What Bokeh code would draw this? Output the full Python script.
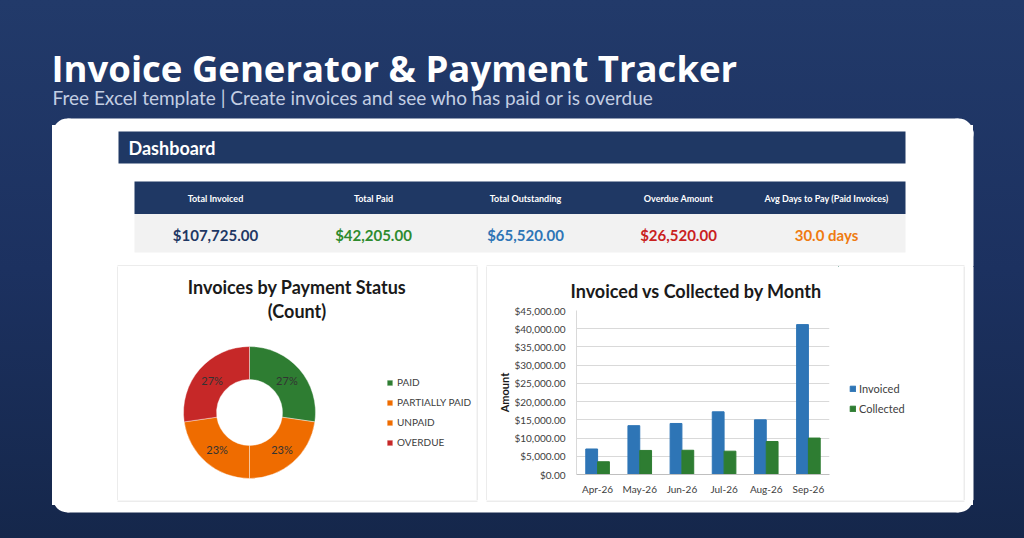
import math
from bokeh.plotting import figure
from bokeh.models import (Range1d, ColumnDataSource, Legend, LegendItem,
                          NumeralTickFormatter, FixedTicker, GlobalInlineStyleSheet)
from bokeh.layouts import column, row
from bokeh.transform import dodge
from bokeh.core.properties import value
from bokeh.embed import file_html
from bokeh.resources import INLINE

# ---------------- data ----------------
page_title = "Invoice Generator & Payment Tracker"
page_subtitle = "Free Excel template | Create invoices and see who has paid or is overdue"
section_title = "Dashboard"

kpi_labels = ["Total Invoiced", "Total Paid", "Total Outstanding", "Overdue Amount",
              "Avg Days to Pay (Paid Invoices)"]
kpi_values = ["$107,725.00", "$42,205.00", "$65,520.00", "$26,520.00", "30.0 days"]

status_labels = ["PAID", "PARTIALLY PAID", "UNPAID", "OVERDUE"]
status_counts = [6, 5, 5, 6]

months = ["Apr-26", "May-26", "Jun-26", "Jul-26", "Aug-26", "Sep-26"]
invoiced = [7000, 13400, 14000, 17200, 15000, 41125]
collected = [3500, 6600, 6650, 6400, 9055, 10000]
y_ticks = [0, 5000, 10000, 15000, 20000, 25000, 30000, 35000, 40000, 45000]
series_names = ["Invoiced", "Collected"]

# ---------------- styles ----------------
HEADER = "#1f3864"
FONT = "Lato"
BORDER = "#d9d9d9"
kpi_colors = ["#1f3864", "#2e8b2e", "#2e75b6", "#c9211e", "#ef7b10"]
status_colors = ["#2e7d32", "#ef6c00", "#ef6c00", "#c62828"]
BLUE = "#2e75b6"
GREEN = "#2e7d32"
PAGE_CSS = ("html, body { background-color: #1c3160; background: "
            "linear-gradient(#ffffff, #ffffff) no-repeat 52px 125px / 921px 380px, "
            "linear-gradient(to bottom, #223a6a, #1c3160 50%, #15274b) no-repeat 0 0 / 100% 100%; }")


def base_fig(w, h, xr, yr, bg=None):
    p = figure(width=w, height=h, x_range=xr, y_range=yr, output_backend="svg",
               toolbar_location=None, min_border=0, x_axis_location=None,
               y_axis_location=None, outline_line_color=None)
    if bg is None:
        p.background_fill_alpha = 0
        p.border_fill_alpha = 0
    else:
        p.background_fill_color = bg
        p.border_fill_color = bg
    p.frame_align = False
    p.xgrid.visible = False
    p.ygrid.visible = False
    return p


# ---------------- top band (page coords, transparent over the page gradient) ----------------
T = base_fig(1024, 266, Range1d(0, 1024), Range1d(266, 0))
T.quad(left=52, right=973, top=131, bottom=275, fill_color="white", line_color=None)
T.quad(left=67, right=958, top=118, bottom=136, fill_color="white", line_color=None)
T.circle(x=[67, 958], y=[133, 133], radius=15, radius_units="screen",
         fill_color="white", line_color=None)
T.text(x=[51], y=[67], text=[page_title], text_font=value("Open Sans"), text_font_size="36.5px",
       text_font_style="bold", text_color="white", text_baseline="alphabetic")
T.text(x=[52], y=[97], text=[page_subtitle], text_font=value(FONT), text_font_size="19px",
       text_color="#c3cee3", text_baseline="alphabetic")
T.quad(left=118, right=905, top=131, bottom=163, fill_color=HEADER, line_color=None)
T.text(x=[128], y=[147], text=[section_title], text_font=value(FONT), text_font_size="18px",
       text_font_style="bold", text_color="white", text_baseline="middle")
T.quad(left=134, right=905, top=181, bottom=213.5, fill_color=HEADER, line_color=None)
T.quad(left=134, right=905, top=213.5, bottom=252, fill_color="#f2f2f2", line_color=None)
kpi_x = [215, 373, 525, 678, 826]
T.text(x=kpi_x, y=[198] * 5, text=kpi_labels, text_font=value(FONT), text_font_size="9px",
       text_font_style="bold", text_color="white", text_align="center", text_baseline="middle")
T.text(x=kpi_x, y=[234] * 5, text=kpi_values, text_font=value(FONT), text_font_size="15px",
       text_font_style="bold", text_color=kpi_colors, text_align="center", text_baseline="middle")
T.segment(x0=[117, 486], y0=[265.5, 265.5], x1=[477, 964], y1=[265.5, 265.5],
          line_color=BORDER, line_width=1)

# ---------------- middle row ----------------
Lpad = base_fig(118, 234, Range1d(0, 118), Range1d(500, 266))
Lpad.quad(left=52, right=130, top=250, bottom=520, fill_color="white", line_color=None)
Lpad.segment(x0=[117.5], y0=[250], x1=[117.5], y1=[520], line_color=BORDER, line_width=1)

Gap = base_fig(11, 234, Range1d(476, 487), Range1d(500, 266), "white")
Gap.segment(x0=[476.5, 486.5], y0=[250, 250], x1=[476.5, 486.5], y1=[520, 520],
            line_color=BORDER, line_width=1)

Rpad = base_fig(61, 234, Range1d(963, 1024), Range1d(500, 266))
Rpad.quad(left=950, right=973, top=250, bottom=520, fill_color="white", line_color=None)
Rpad.segment(x0=[963.5], y0=[250], x1=[963.5], y1=[520], line_color=BORDER, line_width=1)

# pie (donut)
P = base_fig(358, 234, Range1d(0, 358), Range1d(0, 234), "white")
total = sum(status_counts)
starts, ends, lx, ly, pct = [], [], [], [], []
cum = 0.0
cx, cy, r_in, r_out = 131, 88, 33, 66
for c in status_counts:
    a0 = math.pi / 2 - 2 * math.pi * cum / total
    cum += c
    a1 = math.pi / 2 - 2 * math.pi * cum / total
    starts.append(a0)
    ends.append(a1)
    mid = (a0 + a1) / 2
    rm = (r_in + r_out) / 2
    lx.append(cx + rm * math.cos(mid))
    ly.append(cy + rm * math.sin(mid))
    pct.append(f"{round(c / total * 100)}%")
psrc = ColumnDataSource(dict(start=starts, end=ends, color=status_colors, label=status_labels))
wr = P.annular_wedge(x=cx, y=cy, inner_radius=r_in, outer_radius=r_out,
                     inner_radius_units="screen", outer_radius_units="screen",
                     start_angle="start", end_angle="end", direction="clock",
                     fill_color="color", line_color="white", line_width=0.4, source=psrc)
P.text(x=lx, y=ly, text=pct, text_font=value(FONT), text_font_size="11px",
       text_color="#333333", text_align="center", text_baseline="middle")
P.text(x=[178.5, 178.5], y=[214, 190], text=["Invoices by Payment Status", "(Count)"],
       text_font=value(FONT), text_font_size="18px", text_font_style="bold",
       text_color="#1a1a1a", text_align="center", text_baseline="middle")
pleg = Legend(items=[LegendItem(label=status_labels[i], renderers=[wr], index=i)
                     for i in range(len(status_labels))],
              location=(268, 52), glyph_width=7, glyph_height=7, label_height=12,
              spacing=8, padding=0, margin=0, label_standoff=4,
              label_text_font=FONT, label_text_font_size="10px", label_text_color="#404040",
              border_line_color=None, background_fill_alpha=0)
P.add_layout(pleg)

# bar chart
bsrc = ColumnDataSource(dict(month=months, invoiced=invoiced, collected=collected))
B = figure(width=351, height=234, x_range=months, y_range=Range1d(0, 45000),
           output_backend="svg", toolbar_location=None,
           min_border_left=89, min_border_right=9, min_border_top=44, min_border_bottom=26,
           background_fill_color="white", border_fill_color="white", outline_line_color=None)
B.frame_align = False
B.title.text = "Invoiced vs Collected by Month"
B.title.align = "left"
B.title.offset = -6
B.title.text_font = FONT
B.title.text_font_size = "18px"
B.title.text_font_style = "bold"
B.title.text_color = "#1a1a1a"
B.title.standoff = 18
r1 = B.vbar(x=dodge("month", -0.14, range=B.x_range), top="invoiced", width=0.28,
            fill_color=BLUE, line_color=BLUE, source=bsrc)
r2 = B.vbar(x=dodge("month", 0.14, range=B.x_range), top="collected", width=0.28,
            fill_color=GREEN, line_color=GREEN, source=bsrc)
B.xgrid.visible = False
B.ygrid.grid_line_color = BORDER
B.ygrid.ticker = FixedTicker(ticks=y_ticks)
B.yaxis.ticker = FixedTicker(ticks=y_ticks)
B.yaxis.formatter = NumeralTickFormatter(format="$0,0.00")
B.yaxis.axis_label = "Amount"
B.yaxis.axis_label_text_font = FONT
B.yaxis.axis_label_text_font_size = "11px"
B.yaxis.axis_label_text_font_style = "bold"
B.yaxis.axis_label_text_color = "#1a1a1a"
B.yaxis.axis_label_standoff = 0
for ax in (B.xaxis, B.yaxis):
    ax.major_tick_line_color = None
    ax.minor_tick_line_color = None
    ax.axis_line_color = BORDER
    ax.major_label_text_font = FONT
    ax.major_label_text_font_size = "10px"
    ax.major_label_text_color = "#404040"
B.yaxis.major_label_standoff = 5
B.xaxis.major_label_standoff = 2
B.xaxis.axis_line_color = "#bfbfbf"
B.x_range.range_padding = 0

# legend panel for the bar chart (separate little figure; proxies lie outside its view)
BL = base_fig(125, 234, Range1d(838, 963), Range1d(500, 266), "white")
lg1 = BL.vbar(x=[0], top=[0], bottom=[-1], width=1, fill_color=BLUE, line_color=BLUE)
lg2 = BL.vbar(x=[0], top=[0], bottom=[-1], width=1, fill_color=GREEN, line_color=GREEN)
bleg = Legend(items=[(series_names[0], [lg1]), (series_names[1], [lg2])], location=(11, 85),
              glyph_width=7, glyph_height=7, label_height=12, spacing=7, padding=0,
              margin=0, label_standoff=3, label_text_font=FONT, label_text_font_size="11px",
              label_text_color="#404040", border_line_color=None, background_fill_alpha=0)
BL.add_layout(bleg)

# ---------------- bottom band ----------------
Bot = base_fig(1024, 38, Range1d(0, 1024), Range1d(538, 500))
Bot.quad(left=67, right=958, top=490, bottom=512, fill_color="white", line_color=None)
Bot.quad(left=52, right=973, top=490, bottom=497, fill_color="white", line_color=None)
Bot.circle(x=[67, 958], y=[497, 497], radius=15, radius_units="screen",
           fill_color="white", line_color=None)
Bot.segment(x0=[117, 486], y0=[500.5, 500.5], x1=[477, 964], y1=[500.5, 500.5],
            line_color=BORDER, line_width=1)

layout = column(T, row(Lpad, P, Gap, B, BL, Rpad, spacing=0), Bot, spacing=0)
layout.stylesheets = [GlobalInlineStyleSheet(css=PAGE_CSS)]

open("out.html", "w").write(file_html(layout, INLINE))
